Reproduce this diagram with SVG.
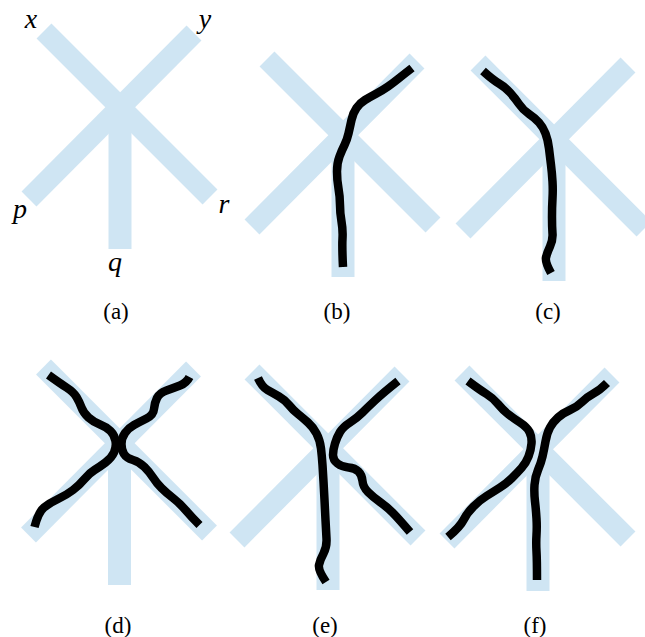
<svg xmlns="http://www.w3.org/2000/svg" xmlns:xlink="http://www.w3.org/1999/xlink" width="645" height="637" viewBox="0 0 645 637">
<style>
.bar{stroke:#cfe5f3;stroke-width:21;stroke-linecap:butt;fill:none}
.stem{stroke:#cfe5f3;stroke-width:23;stroke-linecap:butt;fill:none}
.w{stroke:#000;stroke-width:8.5;fill:none;stroke-linecap:butt;stroke-linejoin:round}
.lbl{font-family:"Liberation Serif","Times New Roman",serif;font-style:italic;font-size:28px;fill:#000;text-anchor:middle}
.cap{font-family:"Liberation Serif","Times New Roman",serif;font-size:23px;fill:#000;text-anchor:middle}
</style>
<defs>
<g id="cross">
<line class="bar" x1="-76" y1="-76" x2="90" y2="90"/>
<line class="bar" x1="74" y1="-74" x2="-91" y2="92"/>
<line class="stem" x1="0" y1="0" x2="0" y2="142"/>
</g>
</defs>
<rect width="645" height="637" fill="#fff"/>
<g id="panel-a">
<use xlink:href="#cross" href="#cross" transform="translate(120,107)"/>
<text class="lbl" x="31" y="28">x</text>
<text class="lbl" x="205" y="28">y</text>
<text class="lbl" x="20" y="218">p</text>
<text class="lbl" x="115" y="271">q</text>
<text class="lbl" x="224" y="213">r</text>
<text class="cap" x="116" y="319">(a)</text>
</g>
<g id="panel-b">
<use xlink:href="#cross" href="#cross" transform="translate(343,135)"/>
<path class="w" transform="translate(343,135)" d="M69,-67 Q60,-60 55,-56 Q50,-52 45,-48.5 Q40,-45 33.5,-41.5 Q27,-38 22,-35 Q17,-32 13.5,-27 Q10,-22 8.5,-15 Q7,-8 5.5,-1.5 Q4,5 1.5,10 Q-1,15 -3.5,21.5 Q-6,28 -6,36.5 Q-6,45 -4.5,53.5 Q-3,62 -3,70 Q-3,78 -1.5,86.5 Q0,95 -0.5,103.5 Q-1,112 0,132"/>
<text class="cap" x="337" y="319">(b)</text>
</g>
<g id="panel-c">
<use xlink:href="#cross" href="#cross" transform="translate(554,139)"/>
<path class="w" transform="translate(554,139)" d="M-71,-68 Q-61,-59 -55,-55.5 Q-49,-52 -44,-46.5 Q-39,-41 -35,-35 Q-31,-29 -25,-25 Q-19,-21 -15,-16.5 Q-11,-12 -8.5,-5.5 Q-6,1 -5,9.5 Q-4,18 -3,26 Q-2,34 -1.5,42.5 Q-1,51 -1.5,59.5 Q-2,68 -2,78 Q-2,88 -1.5,94.5 Q-1,101 -4,107.5 Q-7,114 -8,118.5 Q-9,123 -3,134"/>
<text class="cap" x="548" y="319">(c)</text>
</g>
<g id="panel-d">
<use xlink:href="#cross" href="#cross" transform="translate(119.5,443)"/>
<path class="w" transform="translate(119.5,443)" d="M-71,-68 Q-60,-60 -53,-55.5 Q-46,-51 -43,-46 Q-40,-41 -38,-35.5 Q-36,-30 -31,-25.5 Q-26,-21 -19.5,-18.5 Q-13,-16 -9,-12 Q-5,-8 -4,-2 Q-3,4 -5.5,9.5 Q-8,15 -14,19.5 Q-20,24 -25,27 Q-30,30 -35,36 Q-40,42 -46.5,47 Q-53,52 -61.5,56 Q-70,60 -75.5,64.5 Q-81,69 -85,84"/>
<path class="w" transform="translate(119.5,443)" d="M70,-66 Q67,-60 60.5,-57.5 Q54,-55 47,-52.5 Q40,-50 37.5,-45 Q35,-40 34.5,-34 Q34,-28 27,-24.5 Q20,-21 14.5,-18 Q9,-15 5.5,-10 Q2,-5 2,1 Q2,7 4.5,11 Q7,15 13.5,17 Q20,19 25,24 Q30,29 33.5,34.5 Q37,40 42,45 Q47,50 53.5,55 Q60,60 66,67 Q72,74 80,82"/>
<text class="cap" x="118" y="633">(d)</text>
</g>
<g id="panel-e">
<use xlink:href="#cross" href="#cross" transform="translate(328,448)"/>
<path class="w" transform="translate(328,448)" d="M-70,-70 Q-66,-61 -60.5,-58 Q-55,-55 -49,-51.5 Q-43,-48 -39,-43 Q-35,-38 -30,-34 Q-25,-30 -20,-25.5 Q-15,-21 -11.5,-14.5 Q-8,-8 -7,0.5 Q-6,9 -5.5,17 Q-5,25 -4.5,33.5 Q-4,42 -3.5,52 Q-3,62 -2.5,72 Q-2,82 -1.5,90.5 Q-1,99 -4.5,105.5 Q-8,112 -9,117 Q-10,122 -2,134"/>
<path class="w" transform="translate(328,448)" d="M70,-67 Q55,-55 47.5,-48 Q40,-41 34.5,-35.5 Q29,-30 22,-25.5 Q15,-21 12,-16 Q9,-11 7,-4.5 Q5,2 5,7 Q5,12 9.5,15.5 Q14,19 20.5,19.5 Q27,20 30.5,23.5 Q34,27 34.5,33 Q35,39 40,44 Q45,49 52,54 Q59,59 64.5,64.5 Q70,70 82,84"/>
<text class="cap" x="325" y="633">(e)</text>
</g>
<g id="panel-f">
<use xlink:href="#cross" href="#cross" transform="translate(538,449)"/>
<path class="w" transform="translate(538,449)" d="M-70,-68 Q-58,-59 -51.5,-55 Q-45,-51 -40,-45 Q-35,-39 -30,-35 Q-25,-31 -18,-26.5 Q-11,-22 -8.5,-17 Q-6,-12 -6.5,-5.5 Q-7,1 -9.5,7.5 Q-12,14 -16.5,19 Q-21,24 -26,29 Q-31,34 -38,38.5 Q-45,43 -51.5,47 Q-58,51 -64.5,57.5 Q-71,64 -74.5,71 Q-78,78 -90,88"/>
<path class="w" transform="translate(538,449)" d="M69,-66 Q62,-59 55.5,-55.5 Q49,-52 44,-47 Q39,-42 32,-39 Q25,-36 20,-31.5 Q15,-27 12,-21.5 Q9,-16 7.5,-7.5 Q6,1 4.5,7.5 Q3,14 0,21 Q-3,28 -3.5,36 Q-4,44 -3,52.5 Q-2,61 -1.5,69.5 Q-1,78 -1.5,86 Q-2,94 -1.5,102.5 Q-1,111 -1,131"/>
<text class="cap" x="535" y="633">(f)</text>
</g>
</svg>
